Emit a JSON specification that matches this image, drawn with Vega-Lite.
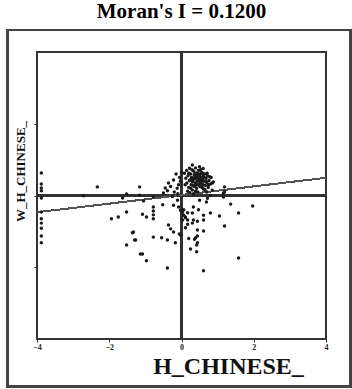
{
  "$schema": "https://vega.github.io/schema/vega-lite/v6.json",
  "width": 289,
  "height": 287,
  "autosize": {"type": "none"},
  "padding": {"left": 37, "top": 52, "right": 26, "bottom": 50},
  "background": "white",
  "title": {"text": "Moran's I = 0.1200", "font": "Liberation Serif", "fontSize": 21, "fontWeight": "bold", "color": "black", "anchor": "middle", "offset": 7},
  "config": {"view": {"stroke": "#333", "strokeWidth": 2}},
  "data": {"values": [
    {"x": 0.08, "y": 0.62}, {"x": 0.12, "y": 0.48}, {"x": 0.15, "y": 0.35}, {"x": 0.18, "y": 0.55}, {"x": 0.2, "y": 0.22},
    {"x": 0.22, "y": 0.42}, {"x": 0.25, "y": 0.6}, {"x": 0.27, "y": 0.3}, {"x": 0.28, "y": 0.5}, {"x": 0.3, "y": 0.15},
    {"x": 0.31, "y": 0.38}, {"x": 0.33, "y": 0.68}, {"x": 0.34, "y": 0.45}, {"x": 0.36, "y": 0.25}, {"x": 0.37, "y": 0.55},
    {"x": 0.38, "y": 0.35}, {"x": 0.4, "y": 0.48}, {"x": 0.41, "y": 0.62}, {"x": 0.42, "y": 0.2}, {"x": 0.43, "y": 0.4},
    {"x": 0.45, "y": 0.52}, {"x": 0.46, "y": 0.3}, {"x": 0.47, "y": 0.7}, {"x": 0.48, "y": 0.44}, {"x": 0.5, "y": 0.58},
    {"x": 0.51, "y": 0.25}, {"x": 0.52, "y": 0.38}, {"x": 0.54, "y": 0.5}, {"x": 0.55, "y": 0.65}, {"x": 0.56, "y": 0.32},
    {"x": 0.58, "y": 0.45}, {"x": 0.6, "y": 0.55}, {"x": 0.61, "y": 0.18}, {"x": 0.62, "y": 0.4}, {"x": 0.64, "y": 0.6},
    {"x": 0.66, "y": 0.28}, {"x": 0.68, "y": 0.48}, {"x": 0.7, "y": 0.36}, {"x": 0.72, "y": 0.55}, {"x": 0.74, "y": 0.22},
    {"x": 0.76, "y": 0.42}, {"x": 0.8, "y": 0.32}, {"x": 0.82, "y": 0.5}, {"x": 0.85, "y": 0.15}, {"x": 0.88, "y": 0.38},
    {"x": 0.1, "y": 0.3}, {"x": 0.14, "y": 0.7}, {"x": 0.17, "y": 0.12}, {"x": 0.2, "y": 0.62}, {"x": 0.23, "y": 0.08},
    {"x": 0.26, "y": 0.45}, {"x": 0.29, "y": 0.72}, {"x": 0.32, "y": 0.28}, {"x": 0.35, "y": 0.58}, {"x": 0.39, "y": 0.12},
    {"x": 0.44, "y": 0.62}, {"x": 0.49, "y": 0.32}, {"x": 0.53, "y": 0.72}, {"x": 0.57, "y": 0.22}, {"x": 0.59, "y": 0.62},
    {"x": 0.63, "y": 0.5}, {"x": 0.67, "y": 0.4}, {"x": 0.71, "y": 0.62}, {"x": 0.75, "y": 0.3}, {"x": 0.78, "y": 0.52},
    {"x": 0.3, "y": 0.42}, {"x": 0.4, "y": 0.3}, {"x": 0.45, "y": 0.42}, {"x": 0.5, "y": 0.45}, {"x": 0.35, "y": 0.48},
    {"x": 0.55, "y": 0.4}, {"x": 0.38, "y": 0.62}, {"x": 0.48, "y": 0.55}, {"x": 0.42, "y": 0.52}, {"x": 0.52, "y": 0.6},
    {"x": 0.26, "y": 0.2}, {"x": 0.6, "y": 0.3}, {"x": 0.65, "y": 0.16}, {"x": 0.7, "y": 0.1}, {"x": 0.45, "y": 0.1},
    {"x": 0.33, "y": 0.05}, {"x": 0.39, "y": 0.77}, {"x": 0.3, "y": 0.85}, {"x": 0.5, "y": 0.8}, {"x": 0.22, "y": 0.76},
    {"x": 0.6, "y": 0.75}, {"x": -0.22, "y": 0.43}, {"x": -0.36, "y": 0.35}, {"x": -0.39, "y": 0.13}, {"x": -0.5, "y": 0.07},
    {"x": -0.25, "y": -0.03}, {"x": -0.11, "y": -0.13}, {"x": -0.22, "y": -0.27}, {"x": -0.08, "y": -0.32}, {"x": -0.03, "y": -0.41},
    {"x": 0.03, "y": -0.47}, {"x": 0.06, "y": -0.55}, {"x": 0.11, "y": -0.6}, {"x": 0.17, "y": -0.68}, {"x": 0.03, "y": -0.68},
    {"x": -0.12, "y": 0.2}, {"x": -0.05, "y": 0.5}, {"x": -0.15, "y": 0.6}, {"x": -0.08, "y": 0.3}, {"x": -0.3, "y": 0.25},
    {"x": -0.2, "y": 0.1}, {"x": -0.1, "y": 0.05}, {"x": 0.0, "y": 0.65}, {"x": -0.03, "y": 0.4},
    {"x": 0.86, "y": 0.35}, {"x": 1.19, "y": 0.24}, {"x": 1.19, "y": 0.1}, {"x": 1.16, "y": 0.07}, {"x": 1.16, "y": -0.04},
    {"x": 0.8, "y": 0.0}, {"x": 0.72, "y": -0.08}, {"x": 0.69, "y": -0.18}, {"x": 0.5, "y": -0.13}, {"x": 0.33, "y": -0.32},
    {"x": 0.47, "y": -0.4}, {"x": 0.3, "y": -0.49}, {"x": 0.8, "y": -0.49}, {"x": 1.05, "y": -0.57}, {"x": 0.61, "y": -0.68},
    {"x": 0.3, "y": -0.77}, {"x": 0.33, "y": -0.68}, {"x": 1.36, "y": -0.24}, {"x": 1.97, "y": -0.29}, {"x": 1.58, "y": -0.49},
    {"x": 1.19, "y": -0.85}, {"x": 1.58, "y": -1.74}, {"x": 0.61, "y": -0.99}, {"x": 0.44, "y": -0.96}, {"x": 0.39, "y": -1.18},
    {"x": 0.42, "y": -1.38}, {"x": 0.44, "y": -1.32}, {"x": 0.42, "y": -1.57}, {"x": 0.36, "y": -1.22}, {"x": 0.25, "y": -1.49},
    {"x": 0.11, "y": -0.9}, {"x": 0.44, "y": -1.13}, {"x": 0.61, "y": -2.1}, {"x": 0.2, "y": -1.2}, {"x": 0.17, "y": -0.8},
    {"x": 0.61, "y": -0.55}, {"x": 0.44, "y": -0.72}, {"x": 0.11, "y": -0.62}, {"x": 0.17, "y": -0.48}, {"x": 0.06, "y": -0.4},
    {"x": -0.06, "y": -1.07}, {"x": -0.03, "y": -1.1}, {"x": -0.17, "y": -1.32}, {"x": -0.22, "y": -1.02}, {"x": -0.3, "y": -0.93},
    {"x": -0.36, "y": -0.82}, {"x": -0.39, "y": -1.24}, {"x": -0.55, "y": -1.18}, {"x": -0.78, "y": -1.16}, {"x": -0.39, "y": -2.02},
    {"x": -0.97, "y": -1.82}, {"x": -1.08, "y": -1.63}, {"x": -1.3, "y": -1.24}, {"x": -1.33, "y": -1.02}, {"x": -1.52, "y": -1.38},
    {"x": -0.97, "y": -0.6}, {"x": -1.05, "y": -0.15}, {"x": -1.16, "y": 0.01}, {"x": -1.16, "y": 0.24}, {"x": -0.78, "y": -0.04},
    {"x": -0.78, "y": -0.32}, {"x": -0.78, "y": -0.43}, {"x": -0.78, "y": -0.54}, {"x": -0.78, "y": -0.65}, {"x": -0.52, "y": -0.26},
    {"x": -0.45, "y": 0.21}, {"x": -1.52, "y": 0.04}, {"x": -1.52, "y": -0.46}, {"x": -1.63, "y": -0.07}, {"x": -1.75, "y": -0.6},
    {"x": -1.94, "y": -0.65}, {"x": -2.33, "y": 0.24}, {"x": -2.71, "y": -0.01}, {"x": -1.36, "y": -1.04}, {"x": -1.27, "y": -1.24},
    {"x": -1.14, "y": -1.63}, {"x": -1.08, "y": -0.52},
    {"x": -3.88, "y": 0.63}, {"x": -3.88, "y": 0.32}, {"x": -3.88, "y": 0.21}, {"x": -3.88, "y": 0.13}, {"x": -3.88, "y": -0.07},
    {"x": -3.88, "y": -0.46}, {"x": -3.88, "y": -0.65}, {"x": -3.88, "y": -0.77}, {"x": -3.88, "y": -0.91}, {"x": -3.88, "y": -1.13},
    {"x": -3.88, "y": -1.32}
  ]},
  "layer": [
    {
      "mark": {"type": "rect", "fill": null, "stroke": "#444", "strokeWidth": 2, "clip": false},
      "encoding": {
        "x": {"datum": -4.82, "type": "quantitative"},
        "x2": {"datum": 4.68},
        "y": {"datum": 4.61, "type": "quantitative"},
        "y2": {"datum": -5.33}
      }
    },
    {
      "mark": {"type": "rule", "color": "#333", "strokeWidth": 1.5},
      "encoding": {"x": {"datum": 0, "type": "quantitative"}}
    },
    {
      "mark": {"type": "rule", "color": "#333", "strokeWidth": 1.5},
      "encoding": {"y": {"datum": 0, "type": "quantitative"}}
    },
    {
      "mark": {"type": "rule", "color": "#555", "strokeWidth": 1.1},
      "encoding": {
        "x": {"datum": -4, "type": "quantitative"},
        "y": {"datum": -0.465, "type": "quantitative"},
        "x2": {"datum": 4},
        "y2": {"datum": 0.495}
      }
    },
    {
      "mark": {"type": "circle", "size": 12, "color": "#1a1a1a", "opacity": 1},
      "encoding": {
        "x": {
          "field": "x", "type": "quantitative",
          "scale": {"domain": [-4, 4], "nice": false, "zero": false},
          "axis": {
            "values": [-4, -2, 0, 2, 4], "grid": false, "domain": false,
            "tickSize": 3, "tickColor": "#333", "labelFont": "Liberation Serif", "labelFontSize": 8,
            "labelFontWeight": "bold", "labelColor": "#222", "labelPadding": 1, "labelFlush": false,
            "title": "H_CHINESE_", "titleFont": "Liberation Serif", "titleFontSize": 24, "titleFontWeight": "bold",
            "titleColor": "#111", "titleX": 191, "titleY": 27, "titleBaseline": "middle", "titleAlign": "center"
          }
        },
        "y": {
          "field": "y", "type": "quantitative",
          "scale": {"domain": [-4, 4], "nice": false, "zero": false},
          "axis": {
            "values": [-2, 0, 2], "grid": false, "domain": false, "labels": false,
            "tickSize": 3, "tickColor": "#333",
            "title": "W_H_CHINESE_", "titleFont": "Liberation Serif", "titleFontSize": 13, "titleFontWeight": "bold",
            "titleColor": "#111", "titleX": -17, "titleY": 119, "titleBaseline": "middle", "titleAlign": "center", "titleAngle": -90
          }
        }
      }
    }
  ]
}
